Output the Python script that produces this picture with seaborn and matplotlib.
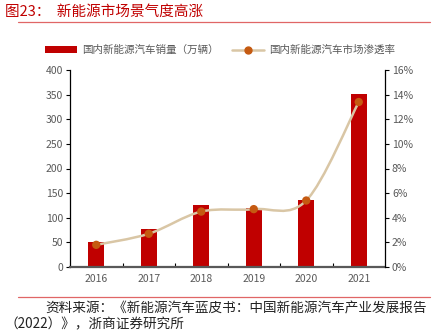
import numpy as np
import pandas as pd
import matplotlib
matplotlib.use("Agg")
import matplotlib.pyplot as plt
import seaborn as sns
from matplotlib.path import Path
from matplotlib.patches import PathPatch, Patch
from matplotlib.lines import Line2D

years = ["2016", "2017", "2018", "2019", "2020", "2021"]
sales = [50.7, 77.7, 125.6, 120.6, 136.7, 352.1]
penetration = [1.8, 2.7, 4.5, 4.7, 5.4, 13.4]
left_ticks = [0, 50, 100, 150, 200, 250, 300, 350, 400]
right_ticks = [0, 2, 4, 6, 8, 10, 12, 14, 16]
legend_labels = ["国内新能源汽车销量（万辆）", "国内新能源汽车市场渗透率"]
title = "图23：  新能源市场景气度高涨"
source1 = "资料来源：《新能源汽车蓝皮书：中国新能源汽车产业发展报告"
source2 = "（2022）》，浙商证券研究所"

sns.set_theme(style="white")
plt.rcParams['font.family'] = ['Noto Sans CJK SC', 'DejaVu Sans']

RED = "#C00000"
TAN = "#D9C6A5"
ORANGE = "#C55A11"
GRAY = "#595959"

df = pd.DataFrame({"year": years, "sales": sales, "pen": penetration})

fig = plt.figure(figsize=(4.4, 3.31), dpi=100)
ax = fig.add_axes([70/440, (331-267)/331, 315/440, 197/331])
sns.barplot(data=df, x="year", y="sales", color=RED, width=0.3, saturation=1,
            ax=ax, edgecolor="none")
ax.set_ylim(0, 400)
ax.set_xlim(-0.5, 5.5)
ax.set_yticks(left_ticks)
ax.set_xlabel("")
ax.set_ylabel("")
ax.tick_params(axis='y', direction='out', length=3, width=0.8, color='black',
               labelsize=7.5, labelcolor=GRAY, pad=2, left=True)
ax.tick_params(axis='x', which='major', length=0, labelsize=7.5, labelcolor=GRAY, pad=5)
ax.set_xticks(np.arange(0.5, 5.5, 1), minor=True)
ax.tick_params(axis='x', which='minor', direction='in', length=3, width=0.8,
               color='black', bottom=True)
for s in ["top", "right"]:
    ax.spines[s].set_visible(False)
ax.spines["left"].set_color("black")
ax.spines["left"].set_linewidth(0.9)
ax.spines["bottom"].set_color(GRAY)
ax.spines["bottom"].set_linewidth(1.6)

ax2 = ax.twinx()
ax2.set_ylim(0, 16)
ax2.set_yticks(right_ticks)
ax2.set_yticklabels([f"{t}%" for t in right_ticks])
ax2.tick_params(axis='y', direction='out', length=3, width=0.8, color='black',
                labelsize=7.5, labelcolor=GRAY, pad=2, right=True)
for s in ["top", "left", "bottom"]:
    ax2.spines[s].set_visible(False)
ax2.spines["right"].set_color("black")
ax2.spines["right"].set_linewidth(0.9)
ax2.grid(False)
ax.grid(False)

# smooth line (Catmull-Rom as cubic Bezier) through the data points
xs = np.arange(len(years), dtype=float)
ys = np.array(penetration, dtype=float)
verts = [(xs[0], ys[0])]
codes = [Path.MOVETO]
n = len(xs)
for i in range(n - 1):
    p0 = np.array([xs[max(i-1, 0)], ys[max(i-1, 0)]])
    p1 = np.array([xs[i], ys[i]])
    p2 = np.array([xs[i+1], ys[i+1]])
    p3 = np.array([xs[min(i+2, n-1)], ys[min(i+2, n-1)]])
    c1 = p1 + (p2 - p0) / 6.0
    c2 = p2 - (p3 - p1) / 6.0
    verts += [tuple(c1), tuple(c2), tuple(p2)]
    codes += [Path.CURVE4] * 3
ax2.add_patch(PathPatch(Path(verts, codes), facecolor="none", edgecolor=TAN, lw=1.8, zorder=3))
sns.scatterplot(x=xs, y=ys, color=ORANGE, s=36, edgecolor="none", ax=ax2, zorder=4, legend=False)

handles = [Patch(facecolor=RED, edgecolor="none"),
           Line2D([0], [0], color=TAN, lw=1.8, marker='o', markerfacecolor=ORANGE,
                  markeredgecolor=ORANGE, markersize=5)]
fig.legend(handles, legend_labels, loc="center", bbox_to_anchor=(0.5, 1 - 50/331),
           ncol=2, frameon=False, fontsize=7.6, handlelength=3.0, handleheight=0.6,
           columnspacing=1.3, handletextpad=0.5, labelcolor=GRAY)

fig.text(5/440, 1 - 12/331, title, color=RED, fontsize=10.5, va="center", ha="left")
fig.add_artist(Line2D([18/440, 430/440], [1 - 22/331, 1 - 22/331], color="#E06666", lw=0.9))
fig.add_artist(Line2D([18/440, 430/440], [1 - 297/331, 1 - 297/331], color="#E06666", lw=0.9))
fig.text(45/440, 1 - 308/331, source1, color="#222222", fontsize=9.8, va="center", ha="left")
fig.text(5/440, 1 - 324/331, source2, color="#222222", fontsize=9.8, va="center", ha="left")

fig.savefig("out.png", dpi=100)
